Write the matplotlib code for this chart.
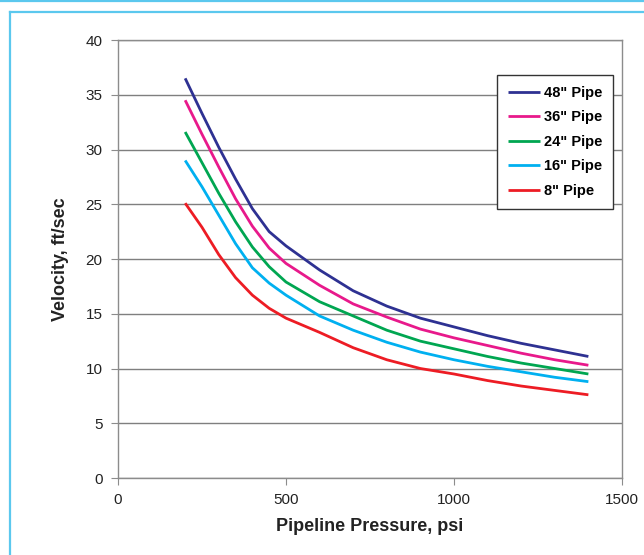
#!/usr/bin/env python3
"""Velocity vs pipeline pressure for several pipe sizes."""

import matplotlib

matplotlib.use("Agg")

import matplotlib.pyplot as plt
from matplotlib.lines import Line2D

plt.rcParams["font.family"] = ["Liberation Sans", "DejaVu Sans"]

pressure = [200, 250, 300, 350, 400, 450, 500, 600, 700, 800, 900, 1000, 1100, 1200, 1300, 1400]

pipe_48 = [36.5, 33.3, 30.2, 27.3, 24.6, 22.5, 21.2, 19.0, 17.1, 15.7, 14.6, 13.8, 13.0, 12.3, 11.7, 11.1]
pipe_36 = [34.5, 31.4, 28.4, 25.5, 23.0, 21.0, 19.6, 17.6, 15.9, 14.7, 13.6, 12.8, 12.1, 11.4, 10.8, 10.3]
pipe_24 = [31.6, 28.8, 26.0, 23.4, 21.1, 19.3, 17.9, 16.1, 14.8, 13.5, 12.5, 11.8, 11.1, 10.5, 10.0, 9.5]
pipe_16 = [29.0, 26.6, 24.0, 21.4, 19.2, 17.8, 16.7, 14.8, 13.5, 12.4, 11.5, 10.8, 10.2, 9.7, 9.2, 8.8]
pipe_8 = [25.1, 22.9, 20.4, 18.3, 16.7, 15.5, 14.6, 13.3, 11.9, 10.8, 10.0, 9.5, 8.9, 8.4, 8.0, 7.6]

series = [
    ('48" Pipe', pipe_48, "#2E3192"),
    ('36" Pipe', pipe_36, "#E8198B"),
    ('24" Pipe', pipe_24, "#00A651"),
    ('16" Pipe', pipe_16, "#00B0F0"),
    ('8" Pipe', pipe_8, "#ED1C24"),
]

x_ticks = [0, 500, 1000, 1500]
y_ticks = [0, 5, 10, 15, 20, 25, 30, 35, 40]

fig = plt.figure(figsize=(6.44, 5.55), dpi=100)
ax = fig.add_axes([0.1832, 0.1387, 0.7826, 0.7892])

for label, values, color in series:
    ax.plot(pressure, values, color=color, lw=2.0, label=label,
            solid_capstyle="butt", solid_joinstyle="round")

ax.set_xlim(0, 1500)
ax.set_ylim(0, 40)
ax.set_xticks(x_ticks)
ax.set_yticks(y_ticks)
ax.grid(axis="y", color="#7f7f7f", lw=1.0)
ax.set_axisbelow(True)
for spine in ax.spines.values():
    spine.set_color("#8c8c8c")
    spine.set_linewidth(1.0)
ax.tick_params(direction="out", length=5, color="#8c8c8c", labelsize=11, labelcolor="#222222", pad=6)

ax.set_xlabel("Pipeline Pressure, psi", fontsize=13, fontweight="bold", color="#222222", labelpad=8)
ax.set_ylabel("Velocity, ft/sec", fontsize=13, fontweight="bold", color="#222222", labelpad=12)

leg = ax.legend(
    loc="upper left",
    bbox_to_anchor=(497 / 644, 1 - 75 / 555),
    bbox_transform=fig.transFigure,
    borderaxespad=0,
    fancybox=False,
    framealpha=1,
    edgecolor="#333333",
    prop={"weight": "bold", "size": 10.5},
    handlelength=2.2,
    handletextpad=0.25,
    labelspacing=0.72,
    borderpad=0.75,
)
leg.get_frame().set_linewidth(1.0)

# light blue page frame
frame_color = "#5BC8EE"
fig.add_artist(Line2D([0, 1], [1 - 1 / 555, 1 - 1 / 555], color=frame_color, lw=1.6, transform=fig.transFigure))
fig.add_artist(Line2D([10 / 644, 1], [1 - 12 / 555, 1 - 12 / 555], color=frame_color, lw=1.6, transform=fig.transFigure))
fig.add_artist(Line2D([10 / 644, 10 / 644], [0, 1 - 12 / 555], color=frame_color, lw=1.6, transform=fig.transFigure))

fig.savefig("out.png", dpi=100)
